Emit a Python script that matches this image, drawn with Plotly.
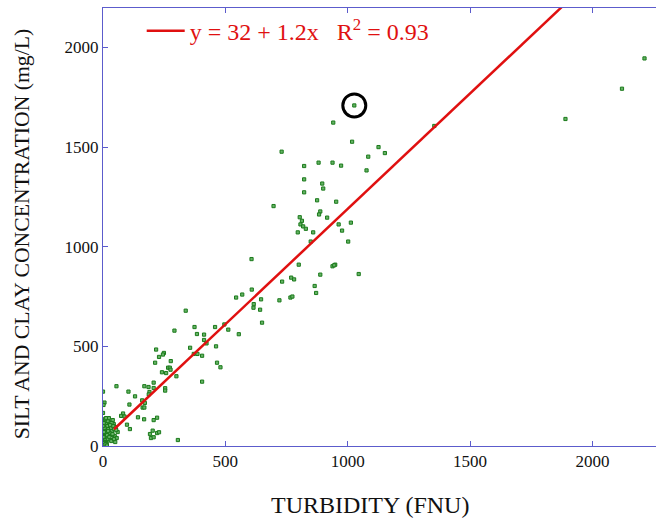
import plotly.graph_objects as go

# Turbidity (FNU) vs silt and clay concentration (mg/L)
turbidity = [
    730, 822, 881, 822, 822, 875, 697, 804, 813, 807, 818, 829, 796, 859,
    896, 900, 953, 888, 883, 916, 963, 1013, 977, 1002, 849, 800, 949, 938,
    888, 1045, 769, 781, 1077, 941, 1018, 1126, 1152, 1084, 938, 973, 1354,
    1890, 2121, 2213, 945, 607, 865, 871, 732, 608, 569, 544, 721, 766, 774,
    616, 615, 646, 642, 650, 338, 374, 384, 413, 413, 423, 356, 371, 386,
    405, 462, 458, 496, 512, 555, 466, 480, 405, 292, 217, 249, 245, 229,
    277, 213, 266, 273, 276, 241, 258, 300, 207, 169, 186, 207, 254, 254,
    190, 187, 160, 171, 162, 169, 168, 207, 221, 203, 192, 221, 229, 196,
    207, 306, 0, 6, 2, 0, 55, 104, 131, 108, 82, 74, 88, 143, 98, 110,
    2, 3, 5, 6, 8, 10, 12, 4, 7, 9, 11, 14, 16, 18, 20, 22, 25, 28, 30, 33,
    36, 40, 44, 48, 52, 56, 60, 15, 19, 24, 27, 31, 35, 38, 42, 46, 50, 5,
    8, 13, 17, 21, 26, 29, 34, 39, 45, 54, 3, 6, 1, 2, 4, 1, 3, 10, 12, 16,
    1027,
]
concentration = [
    1477, 1405, 1422, 1338, 1273, 1233, 1204, 1148, 1130, 1112, 1102, 1090,
    1072, 1072, 1317, 1292, 1226, 1177, 1162, 1146, 1112, 1121, 1081, 1026,
    1026, 910, 910, 902, 860, 863, 845, 836, 1383, 1623, 1527, 1500, 1470,
    1452, 1422, 1407, 1606, 1641, 1793, 1945, 907, 938, 803, 768, 825, 785,
    760, 745, 731, 745, 750, 712, 694, 736, 684, 619, 679, 597, 562, 559,
    532, 515, 493, 462, 462, 453, 500, 597, 610, 584, 561, 418, 395, 323,
    579, 484, 467, 459, 447, 426, 418, 393, 393, 383, 370, 366, 350, 318,
    300, 296, 291, 290, 278, 271, 259, 229, 216, 193, 193, 134, 130, 142,
    77, 60, 65, 69, 40, 44, 30, 273, 218, 206, 166, 300, 273, 249, 208, 163,
    151, 148, 144, 107, 85,
    10, 25, 40, 5, 60, 30, 80, 95, 50, 20, 70, 110, 45, 100, 35, 85, 120, 60,
    105, 90, 75, 130, 110, 50, 95, 40, 70, 15, 125, 140, 65, 30, 115, 55, 100,
    85, 20, 125, 135, 10, 55, 75, 45, 105, 25, 60, 35, 80, 115, 90, 15, 45,
    70, 100, 5, 8, 140, 2,
    1709,
]

# Fitted regression line, end points
fit_x = [45, 1880]
fit_y = [84, 2209]

# Circled sample
circled_x = [1027]
circled_y = [1709]

x_ticks = [0, 500, 1000, 1500, 2000]
y_ticks = [0, 500, 1000, 1500, 2000]

AXIS = "#5c5ccc"
SERIF = "Liberation Serif"

fig = go.Figure()
fig.add_trace(go.Scatter(
    x=turbidity, y=concentration, mode="markers", showlegend=False,
    marker=dict(symbol="square", size=3.2, color="#66b366",
                line=dict(color="#1b7a1b", width=1)),
))
fig.add_trace(go.Scatter(
    x=fit_x, y=fit_y, mode="lines",
    name="y = 32 + 1.2x\u00a0\u00a0\u00a0R<sup>2</sup> = 0.93",
    line=dict(color="#e01010", width=2.5),
))
fig.add_trace(go.Scatter(
    x=circled_x, y=circled_y, mode="markers", showlegend=False,
    marker=dict(symbol="circle-open", size=23,
                line=dict(color="black", width=3), color="black"),
))

axis_common = dict(
    showgrid=False, zeroline=False, showline=True, linecolor=AXIS,
    linewidth=1, ticks="inside", ticklen=5, tickcolor=AXIS,
    tickwidth=1, tickfont=dict(family=SERIF, size=17, color="#111111"),
)

fig.update_layout(
    width=656, height=518,
    margin=dict(l=103, r=0, t=8, b=72),
    font=dict(family=SERIF, size=17, color="#111111"),
    paper_bgcolor="white", plot_bgcolor="white",
    xaxis=dict(range=[0, 2260], tickvals=x_ticks, mirror="ticks", **axis_common),
    yaxis=dict(range=[0, 2198], tickvals=y_ticks, mirror=False, **axis_common),
    legend=dict(x=0.07, y=0.947, xanchor="left", yanchor="middle",
                bgcolor="rgba(0,0,0,0)", borderwidth=0, itemwidth=38,
                font=dict(family=SERIF, size=24, color="#e01010")),
    annotations=[
        dict(text="TURBIDITY (FNU)", xref="paper", yref="paper",
             x=0.4825, y=-0.135, xanchor="center", yanchor="middle",
             showarrow=False, font=dict(family=SERIF, size=24, color="#111111")),
        dict(text="SILT AND CLAY CONCENTRATION (mg/L)", xref="paper",
             yref="paper", x=-0.145, y=0.483, xanchor="center",
             yanchor="middle", textangle=-90, showarrow=False,
             font=dict(family=SERIF, size=21.7, color="#111111")),
    ],
)

fig.write_html("out.html", config={"displayModeBar": False},
               post_script="document.body.style.margin='0';")
